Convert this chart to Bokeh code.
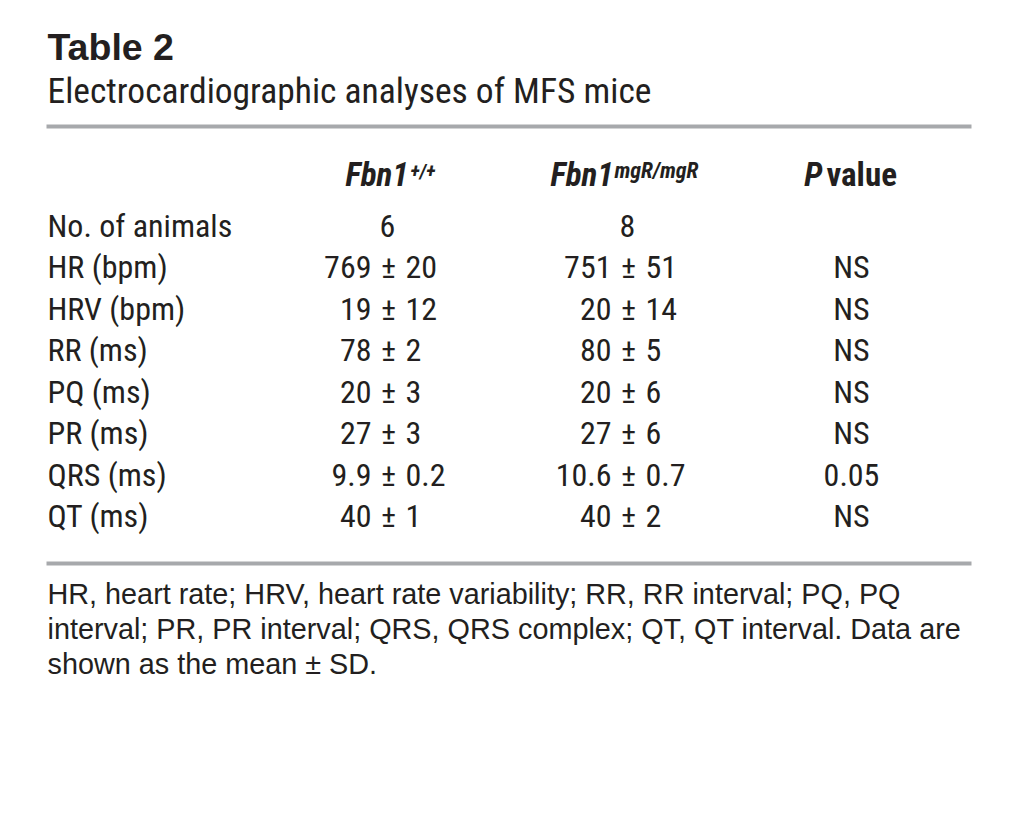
from bokeh.plotting import figure
from bokeh.models import Range1d, ColumnDataSource
from bokeh.core.properties import value
from bokeh.embed import file_html
from bokeh.resources import INLINE

title = "Table 2"
subtitle = "Electrocardiographic analyses of MFS mice"
row_labels = ["No. of animals", "HR (bpm)", "HRV (bpm)", "RR (ms)", "PQ (ms)",
              "PR (ms)", "QRS (ms)", "QT (ms)"]
wt_mean = ["6", "769", "19", "78", "20", "27", "9.9", "40"]
wt_sd = ["", "20", "12", "2", "3", "3", "0.2", "1"]
mut_mean = ["8", "751", "20", "80", "20", "27", "10.6", "40"]
mut_sd = ["", "51", "14", "5", "6", "6", "0.7", "2"]
p_values = ["", "NS", "NS", "NS", "NS", "NS", "0.05", "NS"]
footnote = ["HR, heart rate; HRV, heart rate variability; RR, RR interval; PQ, PQ",
            "interval; PR, PR interval; QRS, QRS complex; QT, QT interval. Data are",
            "shown as the mean \u00b1 SD."]

NARROW = "Roboto Condensed"
REG = "Liberation Sans"
INK = "#231f20"
RULE = "#a7a9ac"
SHIFT = 0.42  # baseline correction (fraction of font size)

W, H = 1002, 813
p = figure(width=W, height=H, output_backend="svg", toolbar_location=None,
           x_range=Range1d(0, W), y_range=Range1d(H, 0), min_border=0)
p.axis.visible = False
p.grid.visible = False
p.outline_line_color = None
p.background_fill_color = "white"

def txt(x, y, t, size, font=NARROW, style="normal", align="left", color=INK):
    p.text(x=[x], y=[y - SHIFT * size], text=[t], text_font=value(font),
           text_font_size=f"{size}px", text_font_style=style, text_align=align,
           text_baseline="alphabetic", text_color=color)

# Title block
txt(47, 62, title, 37.5, font=REG, style="bold")
txt(47, 105, subtitle, 35.5)
p.segment(x0=[46], y0=[126], x1=[971], y1=[126], line_color=RULE, line_width=4)

# Header
txt(408, 188, "Fbn1", 33, style="bold italic", align="right")
txt(410, 179, "+/+", 20, style="bold italic")
txt(613, 188, "Fbn1", 33, style="bold italic", align="right")
txt(614, 179, "mgR/mgR", 22, style="bold italic")
txt(822, 188, "P", 33, style="bold italic", align="right")
txt(826, 188, "value", 33, style="bold")

# Body
base0 = 238.5
step = 41.5
ys = [base0 + i * step for i in range(len(row_labels))]
pm1, pm2, pcol = 388, 628, 851
FS = 32

lab_src = ColumnDataSource(dict(x=[47] * len(ys), y=[y - SHIFT * FS for y in ys], t=row_labels))
p.text(x="x", y="y", text="t", source=lab_src, text_font=value(NARROW),
       text_font_size=f"{FS}px", text_align="left", text_baseline="alphabetic", text_color=INK)

for i, y in enumerate(ys):
    for pm, m, s in ((pm1, wt_mean[i], wt_sd[i]), (pm2, mut_mean[i], mut_sd[i])):
        if s:
            txt(pm - 17, y, m, FS, align="right")
            txt(pm, y, "\u00b1", FS, align="center")
            txt(pm + 17, y, s, FS, align="left")
        else:
            txt(pm - 1, y, m, FS, align="center")
    if p_values[i]:
        txt(pcol, y, p_values[i], FS, align="center")

p.segment(x0=[46], y0=[563], x1=[971], y1=[563], line_color=RULE, line_width=4)

for j, line in enumerate(footnote):
    txt(47, 605.5 + j * 35, line, 28.8, font=REG)

open("out.html", "w").write(file_html(p, INLINE))
